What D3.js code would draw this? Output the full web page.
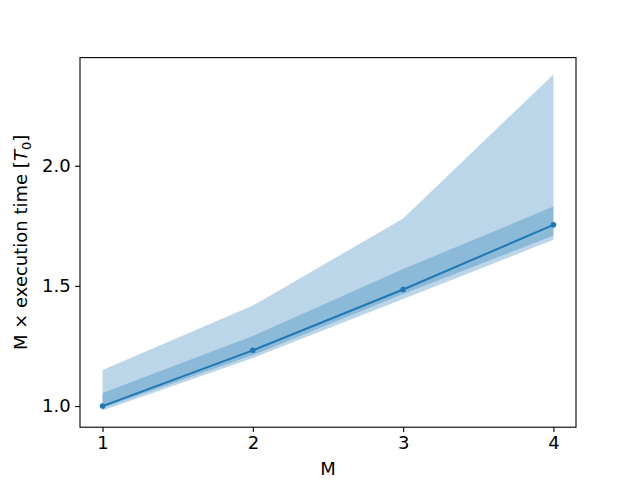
<!DOCTYPE html>
<html>
<head>
<meta charset="utf-8">
<script src="https://cdn.jsdelivr.net/npm/d3@7"></script>
<style>
  body { margin: 0; background: #fff; }
  text { font-family: "DejaVu Sans", sans-serif; }
</style>
</head>
<body>
<div id="viz"></div>
<script>
// values
const mValues = [1, 2, 3, 4];
const meanTime = [1.0, 1.232, 1.485, 1.754];
const outerLow = [0.982, 1.200, 1.445, 1.692];
const outerHigh = [1.150, 1.418, 1.780, 2.380];
const innerLow = [0.992, 1.212, 1.466, 1.710];
const innerHigh = [1.054, 1.292, 1.570, 1.830];
const xTicks = [1, 2, 3, 4];
const yTicks = [1.0, 1.5, 2.0];

const w = 640, h = 480;
const padLeft = 80, padRight = 576, padTop = 57.6, padBottom = 427.2;
const blue = "#1f77b4";
const fontSize = 18;

const svg = d3.select("#viz").append("svg")
  .attr("width", w)
  .attr("height", h);

// matplotlib style 5% margins
const yMin = d3.min(outerLow), yMax = d3.max(outerHigh);
const yPad = (yMax - yMin) * 0.05;
const xPad = (d3.max(mValues) - d3.min(mValues)) * 0.05;

const x = d3.scaleLinear()
  .domain([d3.min(mValues) - xPad, d3.max(mValues) + xPad])
  .range([padLeft, padRight]);
const y = d3.scaleLinear()
  .domain([yMin - yPad, yMax + yPad])
  .range([padBottom, padTop]);

const band = (lo, hi) => d3.area()
  .x((d, i) => x(mValues[i]))
  .y0((d, i) => y(lo[i]))
  .y1((d, i) => y(hi[i]));

svg.append("path")
  .datum(mValues)
  .attr("d", band(outerLow, outerHigh))
  .attr("fill", blue)
  .attr("fill-opacity", 0.3);

svg.append("path")
  .datum(mValues)
  .attr("d", band(innerLow, innerHigh))
  .attr("fill", blue)
  .attr("fill-opacity", 0.3);

svg.append("path")
  .datum(meanTime)
  .attr("d", d3.line().x((d, i) => x(mValues[i])).y(d => y(d)))
  .attr("fill", "none")
  .attr("stroke", blue)
  .attr("stroke-width", 2);

svg.append("g").selectAll("circle")
  .data(meanTime)
  .join("circle")
  .attr("cx", (d, i) => x(mValues[i]))
  .attr("cy", d => y(d))
  .attr("r", 2.8)
  .attr("fill", blue);

// axes
const xAxis = svg.append("g")
  .attr("transform", `translate(0,${padBottom})`)
  .call(d3.axisBottom(x).tickValues(xTicks).tickFormat(d3.format("d")).tickSizeOuter(0).tickSize(4.9).tickPadding(4));
const yAxis = svg.append("g")
  .attr("transform", `translate(${padLeft},0)`)
  .call(d3.axisLeft(y).tickValues(yTicks).tickFormat(d3.format(".1f")).tickSizeOuter(0).tickSize(4.9).tickPadding(4.5));

[xAxis, yAxis].forEach(a => {
  a.select(".domain").remove();
  a.selectAll(".tick line").attr("stroke", "#000").attr("stroke-width", 1.1);
  a.selectAll(".tick text")
    .attr("fill", "#000")
    .style("font-size", fontSize + "px")
    .style("font-family", "DejaVu Sans");
});

svg.append("rect")
  .attr("x", padLeft)
  .attr("y", padTop)
  .attr("width", padRight - padLeft)
  .attr("height", padBottom - padTop)
  .attr("fill", "none")
  .attr("stroke", "#000")
  .attr("stroke-width", 1.1);

// labels
svg.append("text")
  .attr("x", (padLeft + padRight) / 2)
  .attr("y", 475)
  .attr("text-anchor", "middle")
  .style("font-size", fontSize + "px")
  .text("M");

const yl = svg.append("text")
  .attr("transform", `translate(27,${(padTop + padBottom) / 2}) rotate(-90)`)
  .attr("text-anchor", "middle")
  .style("font-size", fontSize + "px");
yl.append("tspan").text("M \u00d7 execution time [");
yl.append("tspan").style("font-style", "italic").text("T");
yl.append("tspan").attr("dy", 4).style("font-size", "13px").text("0");
yl.append("tspan").attr("dy", -4).text("]");
</script>
</body>
</html>
